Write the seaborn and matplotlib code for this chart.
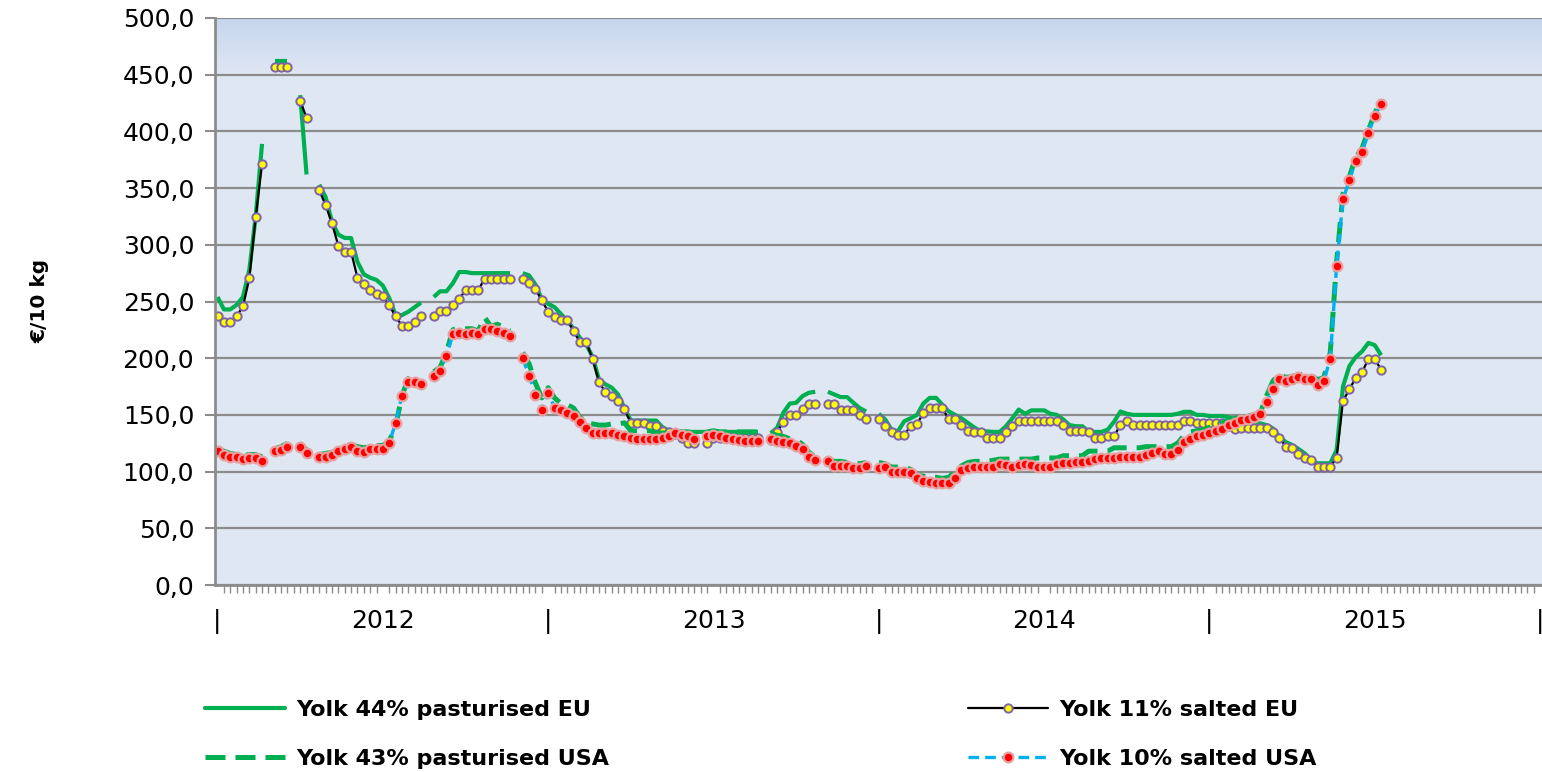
import numpy as np
import pandas as pd
import matplotlib
matplotlib.use("Agg")
import matplotlib.pyplot as plt
import seaborn as sns
from matplotlib.lines import Line2D
from matplotlib.ticker import FuncFormatter, MultipleLocator

nan = np.nan

# === Data: weekly prices in €/10 kg, week 0 = first week of 2012 ===
yolk44_eu = [
    254, 243, 243, 247, 254, 278, 325, 389, nan, 462,
    462, 462, nan, 432, 362, nan, 353, 342, 320, 309,
    306, 306, 285, 274, 271, 269, 264, 253, 238, 238,
    241, 245, 249, nan, 254, 259, 259, 266, 276, 276,
    275, 275, 275, 275, 275, 275, 275, nan, 275, 273,
    265, 252, 248, 245, 239, 233, 226, 218, 212, 201,
    181, 177, 174, 168, 156, 145, 145, 145, 145, 145,
    139, 136, 135, 135, 135, 135, 135, 135, 135, 135,
    135, 135, 135, 135, 135, 135, nan, 134, 138.5, 152,
    160, 160.7, 166.6, 169.5, 170.4, nan, 170.4, 168, 165.7, 165.7,
    160.7, 156, 153, nan, 151, 146, 137, 135.5, 144.4, 147,
    150, 160, 165, 165, 159, 153, 150, 147, 143, 139,
    135.5, 135.5, 135, 135, 140, 147, 154.7, 151, 154, 154,
    154, 151, 150, 146, 141, 140, 140, 135.5, 135, 135,
    137, 144, 153, 151, 150, 150, 150, 150, 150, 150,
    150, 151, 152.7, 152.7, 150, 150, 149, 149, 149, 148,
    146, 142.5, 142.5, 142.5, 142.5, 141, 138, 131, 126, 123.5,
    120, 116, 110, 107.3, 107.3, 107.3, 119, 175, 193, 201,
    206, 213.5, 211.5, 202.6,
]

yolk11_eu = [
    237, 231.5, 231.5, 237, 245.6, 270.6, 324.4, 371.5, nan, 457,
    457, 457, nan, 427, 412, nan, 348, 335, 319, 299,
    294, 294, 271, 265, 260, 256.5, 255, 246.5, 237, 228.5,
    228.5, 232, 237, nan, 237, 242, 242, 246.5, 252, 260,
    260, 260, 270, 270, 270, 270, 270, nan, 270, 266,
    261, 251, 241, 236, 234, 234, 224, 214, 214, 199,
    179, 170, 167, 162, 155, 143, 143, 143, 140, 140,
    136, 135, 133, 130, 125, 125, nan, 125, 130, 130,
    130, 130, 130, 130, 130, 130, nan, 128, 134.6, 144,
    149.7, 149.7, 155.6, 159.8, 159.8, nan, 159.8, 159.8, 154.7, 154.7,
    154.7, 149.7, 146, nan, 146, 140, 135, 132.5, 132.5, 140,
    142, 151.5, 156, 156, 156, 146, 146, 141.4, 136, 134.6,
    134.6, 129.6, 129.6, 129.6, 134.6, 140, 144.4, 144.4, 144.4, 144.4,
    144.4, 144.4, 144.4, 141.4, 136, 136, 136, 134.6, 129.6, 129.6,
    131, 131, 141.4, 145, 141.4, 141.4, 141.4, 141.4, 141.4, 141.4,
    141.4, 141.4, 145, 145, 143, 143, 143, 143, 143, 140,
    138, 138.7, 138.7, 138.7, 138.7, 138.7, 135, 130, 122, 120.5,
    115.5, 112.3, 110, 103.8, 103.8, 103.8, 112.3, 162.5, 172.4, 182.7,
    187.4, 199.7, 199.7, 189.4,
]

yolk43_usa = [
    121, 118, 116, 115, 114, 115, 115, 113, nan, 120,
    122, 125, nan, 125, 119, nan, 115, 116, 117, 119,
    122, 124, 122, 121, 122, 123, 123, 127, 140, 167,
    182, 181, 178, nan, 188, 192, 205, 225, 227, 226,
    226, 224, 236, 228, 230, 227, 224, nan, 205, 195,
    178, 165, 174, 165, 160, 159, 156, 148, 143, 142,
    141, 141, 142, 142, 143, 136, 136, 136, 136, 134,
    134, 134, 135, 135, 135, 134, nan, 135, 136, 135,
    135, 135, 135, 135, 135, 135, nan, 134, 132, 131,
    129, 128, 124, 117, 113, nan, 111, 109, 109, 108,
    108, 107, 108, nan, 108, 107, 104, 104, 104, 102,
    97, 96, 95, 95, 94, 95, 100, 105, 108, 109,
    109, 109, 110, 111, 111, 111, 111, 111, 111, 112,
    112, 112, 112, 114, 114, 114, 114, 118, 118, 118,
    118, 121, 121, 121, 121, 121, 122, 122, 122, 122,
    122, 125, 132, 135, 136, 137, 139, 140, 143, 145,
    147, 148, 149, 150, 152, 167, 180, 186, 183, 184,
    185, 186, 185, 181, 183, 205, 285, 345, 360, 377,
    385, 401, 416, 428,
]

yolk10_usa = [
    118, 114.7, 113, 113, 111, 112, 112, 109.4, nan, 118,
    119, 121.5, nan, 121.5, 116, nan, 113, 113, 114.7, 118,
    119.7, 121.5, 118, 117.6, 119.7, 119.7, 119.7, 125, 143, 167,
    179, 179, 177, nan, 184, 189, 202, 221, 222, 221,
    222, 221, 225.6, 225.6, 224, 222, 220, nan, 200, 184.4,
    167.6, 154.4, 169.7, 156.5, 154, 152, 149, 144, 138.8, 134.4,
    134.4, 134.4, 134.4, 132.4, 131.5, 130, 129, 129, 129, 129,
    130, 131, 134.4, 132, 131, 129, nan, 131, 132, 131,
    130, 129, 128, 126.6, 126.6, 126.6, nan, 129, 127, 126,
    125, 123, 120, 113.3, 110.4, nan, 109, 105, 105, 105,
    103.5, 103, 105, nan, 103, 104.4, 100, 100, 100, 98.5,
    94.7, 91.7, 91, 89.6, 89.6, 89.6, 94.7, 101.5, 103.5, 104.4,
    104.4, 104.4, 104.4, 106.5, 106, 104.4, 106, 106.5, 106, 104.4,
    104.4, 104.4, 106.5, 107.4, 107.4, 108.3, 108.3, 109, 111, 112,
    112, 112, 113.3, 113.3, 113.3, 113.3, 114.8, 116.3, 117.8, 115.4,
    115.4, 119.2, 126, 129, 131, 132.5, 134, 135.5, 138, 140.8,
    143, 145.5, 146.3, 148.4, 150.4, 161.6, 173, 182, 180, 181.5,
    183.6, 181.5, 181.5, 176.8, 180, 199.6, 281.6, 340, 357, 374,
    382, 399, 414, 424,
]

year_labels = ["2012", "2013", "2014", "2015"]
weeks_per_year = 52

# === Style ===
sns.set_theme(style="white")
plt.rcParams["font.family"] = ["DejaVu Sans"]
plt.rcParams["text.color"] = "black"

GREEN = "#00b050"
BLUE = "#00b0f0"
GRID = "#8c8c8c"

fig = plt.figure(figsize=(15.42, 7.72), dpi=100)
ax = fig.add_axes([215 / 1542, 1 - 585 / 772, 1327 / 1542, 567 / 772])

# plot area background: flat light blue with a darker band fading in at the top
t = np.linspace(0, 1, 400)
mix = np.clip((t - 0.90) / 0.10, 0, 1)[:, None]
c_low = np.array([0.878, 0.906, 0.953])
c_top = np.array([0.776, 0.839, 0.933])
bg = (c_low * (1 - mix) + c_top * mix)[:, None, :]
ax.imshow(bg, extent=[0, 1, 0, 1], transform=ax.transAxes, aspect="auto",
          origin="lower", zorder=0)


def to_frame(values):
    s = pd.Series(values, dtype=float)
    df = pd.DataFrame({"week": np.arange(len(s)), "price": s, "seg": s.isna().cumsum()})
    return df.dropna()


def draw(values, dashes=None, **kw):
    n = len(ax.lines)
    sns.lineplot(data=to_frame(values), x="week", y="price", units="seg",
                 estimator=None, sort=False, legend=False, ax=ax, **kw)
    for ln in ax.lines[n:]:
        if dashes is not None:
            ln.set_dashes(dashes)
        ln.set_solid_capstyle("butt")
        ln.set_dash_capstyle("butt")


eu44_style = dict(color=GREEN, linewidth=3.0)
eu11_style = dict(color="black", linewidth=1.6, marker="o", markersize=6,
                  markerfacecolor="#ffff00", markeredgecolor="#7f62a8",
                  markeredgewidth=1.4)
us43_style = dict(color=GREEN, linewidth=3.6)
us10_style = dict(color=BLUE, linewidth=2.4, marker="o", markersize=7,
                  markerfacecolor="#ff0000", markeredgecolor="#e8a0a0",
                  markeredgewidth=1.6)

draw(yolk44_eu, **eu44_style)
draw(yolk11_eu, **eu11_style)
draw(yolk43_usa, dashes=(4, 2), **us43_style)
draw(yolk10_usa, dashes=(3.2, 1.8), **us10_style)

# === Axes ===
ax.set_xlim(-0.4, 208.3)
ax.set_ylim(0, 500)
ax.set_xlabel("")
ax.set_ylabel("")
ax.yaxis.set_major_locator(MultipleLocator(50))
ax.yaxis.set_major_formatter(FuncFormatter(lambda v, p: f"{v:.1f}".replace(".", ",")))
ax.grid(axis="y", color=GRID, linewidth=1.6)
ax.grid(axis="x", visible=False)
ax.set_axisbelow(True)

bounds = [i * weeks_per_year for i in range(len(year_labels) + 1)]
centers = [i * weeks_per_year + weeks_per_year / 2 for i in range(len(year_labels))]
ax.set_xticks(bounds + centers, ["|"] * len(bounds) + year_labels)
ax.set_xticks(np.arange(0, bounds[-1] + 1), minor=True)
ax.tick_params(axis="x", which="major", length=0, pad=17, labelsize=18,
               labelcolor="black")
ax.tick_params(axis="x", which="minor", length=6, width=1, color=GRID,
               direction="out", bottom=True)
ax.tick_params(axis="y", which="major", length=7, width=1.5, color=GRID,
               direction="out", left=True, labelsize=18, pad=8,
               labelcolor="black")

for side in ["top", "right"]:
    ax.spines[side].set_visible(False)
for side in ["left", "bottom"]:
    ax.spines[side].set_color(GRID)
    ax.spines[side].set_linewidth(2)
    ax.spines[side].set_zorder(5)

fig.text(40 / 1542, 1 - 301 / 772, "€/10 kg", rotation=90, ha="center",
         va="center", fontsize=14.5, fontweight="bold", color="black")

# === Legend (two columns below the chart) ===
def handle(style, dashes=None):
    h = Line2D([], [], **style)
    if dashes is not None:
        h.set_dashes(dashes)
    return h

leg_kw = dict(frameon=False, loc="upper left", borderpad=0, borderaxespad=0,
              handlelength=3.6, handletextpad=0.5, labelspacing=1.3,
              prop={"size": 16, "weight": "bold"})
leg1 = fig.legend([handle(eu44_style), handle(us43_style, (4, 2))],
                  ["Yolk 44% pasturised EU", "Yolk 43% pasturised USA"],
                  bbox_to_anchor=(205 / 1542, 1 - 700 / 772), **leg_kw)
leg2 = fig.legend([handle(eu11_style), handle(us10_style, (3.2, 1.8))],
                  ["Yolk 11% salted EU", "Yolk 10% salted USA"],
                  bbox_to_anchor=(968 / 1542, 1 - 700 / 772), **leg_kw)
for leg in (leg1, leg2):
    for txt in leg.get_texts():
        txt.set_color("black")

fig.savefig("out.png", dpi=100, facecolor="white")
